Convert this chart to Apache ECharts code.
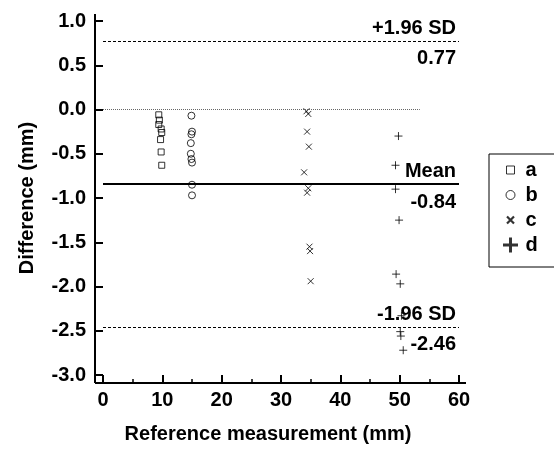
<!DOCTYPE html>
<html><head><meta charset="utf-8">
<script src="https://cdn.jsdelivr.net/npm/echarts@6/dist/echarts.min.js"></script>
<style>html,body{margin:0;padding:0;background:#fff}#c{width:554px;height:450px}</style>
</head><body><div id="c"></div>
<script>
// ---- data ----
const seriesNames = ['a', 'b', 'c', 'd'];
const dataA = [[9.4,-0.06],[9.5,-0.12],[9.4,-0.17],[9.8,-0.22],[9.9,-0.26],[9.7,-0.34],[9.8,-0.48],[9.9,-0.63]];
const dataB = [[14.9,-0.07],[15.0,-0.25],[14.9,-0.28],[14.8,-0.38],[14.8,-0.50],[14.9,-0.56],[15.0,-0.60],[15.0,-0.85],[15.0,-0.97]];
const dataC = [[34.3,-0.02],[34.6,-0.05],[34.4,-0.25],[34.7,-0.42],[33.9,-0.71],[34.6,-0.89],[34.4,-0.94],[34.8,-1.55],[34.9,-1.60],[35.0,-1.94]];
const dataD = [[49.8,-0.30],[49.3,-0.63],[49.3,-0.90],[49.9,-1.25],[49.4,-1.86],[50.1,-1.97],[50.3,-2.33],[50.1,-2.51],[50.2,-2.56],[50.6,-2.72]];
const upperLoA = 0.77, meanDiff = -0.84, lowerLoA = -2.46;
const upperLabel = '+1.96 SD', meanLabel = 'Mean', lowerLabel = '-1.96 SD';
const xTicks = [0, 10, 20, 30, 40, 50, 60];
const yTicks = [-3.0, -2.5, -2.0, -1.5, -1.0, -0.5, 0.0, 0.5, 1.0];
const zeroLineEnd = 53.4;

const FONT = "'Liberation Sans', Arial, sans-serif";
const txt = {fontFamily: FONT, fontWeight: 'bold', fontSize: 20, color: '#000'};

const symSquare = 'path://M0,0L10,0L10,10L0,10Z';
const symCircle = 'path://M10,5A5,5,0,1,1,0,5A5,5,0,1,1,10,5Z';
const symCross = 'path://M0,0L10,10M10,0L0,10';
const symPlus = 'path://M5,0L5,10M0,5L10,5';

const legSquare = 'path://M0,0M20,16M6,4L14,4L14,12L6,12Z';
const legCircle = 'path://M0,0M20,16M14.5,8A4.5,4.5,0,1,1,5.5,8A4.5,4.5,0,1,1,14.5,8Z';
const legCross = 'path://M0,0M20,16M6.5,4.5L13.5,11.5M13.5,4.5L6.5,11.5';
const legPlus = 'path://M0,0M20,16M10,0.5L10,15.5M2.5,8L17.5,8';

const symStyle = {color: 'rgba(0,0,0,0)', borderColor: '#000', borderWidth: 1};

function sc(name, data, symbol, size) {
  return {name, type: 'scatter', data, symbol, symbolSize: size, itemStyle: symStyle, silent: true, z: 3};
}

function lineItem(y, x1, style, label) {
  return [{coord: [0, y], lineStyle: style, label: label}, {coord: [x1, y]}];
}
const dashStyle = {type: [3, 2], width: 1, color: '#000'};
const hidden = {color: 'rgba(0,0,0,0)', width: 1, type: 'solid'};
const lab = (text, pos, dist) => Object.assign({show: true, formatter: text, position: pos, distance: dist}, txt);

const chart = echarts.init(document.getElementById('c'), null, {renderer: 'canvas'});
const option = {
  animation: false,
  backgroundColor: '#fff',
  textStyle: {fontFamily: FONT},
  grid: {left: 103, right: 95, top: 21, bottom: 75},
  xAxis: {
    type: 'value', min: xTicks[0], max: xTicks[xTicks.length - 1], interval: 10, offset: 8,
    name: 'Reference measurement (mm)', nameLocation: 'middle', nameGap: 41,
    nameTextStyle: Object.assign({padding: [0, 26, 0, 0]}, txt),
    axisLine: {show: false, onZero: false},
    axisTick: {show: true, inside: true, length: 8, lineStyle: {width: 2, color: '#000'}},
    minorTick: {show: true, splitNumber: 2, length: 4, lineStyle: {width: 1.5, color: '#000'}},
    axisLabel: Object.assign({margin: 7}, txt),
    splitLine: {show: false}
  },
  yAxis: {
    type: 'value', min: yTicks[0], max: yTicks[yTicks.length - 1], interval: 0.5, offset: 8,
    name: 'Difference (mm)', nameLocation: 'middle', nameGap: 58,
    nameTextStyle: txt,
    axisLine: {show: false, onZero: false},
    axisTick: {show: true, inside: true, length: 8, lineStyle: {width: 2, color: '#000'}},
    axisLabel: Object.assign({margin: 9, formatter: v => v.toFixed(1)}, txt),
    splitLine: {show: false}
  },
  legend: {
    orient: 'vertical', left: 489, top: 154, itemWidth: 20, itemHeight: 16, itemGap: 5,
    padding: [6, 40, 12, 10], borderColor: '#000', borderWidth: 1, borderRadius: 0,
    selectedMode: false, textStyle: txt,
    data: [
      {name: 'a', icon: legSquare, itemStyle: {color: 'rgba(0,0,0,0)', borderColor: '#000', borderWidth: 1}},
      {name: 'b', icon: legCircle, itemStyle: {color: 'rgba(0,0,0,0)', borderColor: '#000', borderWidth: 1}},
      {name: 'c', icon: legCross, itemStyle: {color: 'rgba(0,0,0,0)', borderColor: '#000', borderWidth: 2.2}},
      {name: 'd', icon: legPlus, itemStyle: {color: 'rgba(0,0,0,0)', borderColor: '#000', borderWidth: 3}}
    ]
  },
  series: [
    {
      name: 'ref', type: 'scatter', data: [], silent: true, z: 2,
      markLine: {
        silent: true, symbol: ['none', 'none'], animation: false,
        data: [
          lineItem(0, zeroLineEnd, {type: [1, 1], width: 1, color: '#666'}, {show: false}),
          lineItem(upperLoA, 60, dashStyle, lab(upperLabel, 'insideEndTop', [3, 3])),
          lineItem(upperLoA, 60, hidden, lab(upperLoA.toFixed(2), 'insideEndBottom', [3, 7])),
          lineItem(meanDiff, 60, {type: 'solid', width: 2, color: '#000'}, lab(meanLabel, 'insideEndTop', [3, 2])),
          lineItem(meanDiff, 60, hidden, lab(meanDiff.toFixed(2), 'insideEndBottom', [3, 9])),
          lineItem(lowerLoA, 60, dashStyle, lab(lowerLabel, 'insideEndTop', [3, 3])),
          lineItem(lowerLoA, 60, hidden, lab(lowerLoA.toFixed(2), 'insideEndBottom', [3, 7]))
        ]
      }
    },
    sc('a', dataA, symSquare, 6),
    sc('b', dataB, symCircle, 7),
    sc('c', dataC, symCross, 6),
    sc('d', dataD, symPlus, 8)
  ]
};
chart.setOption(option);

// axis lines (offset Prism-style frame)
const pMin = chart.convertToPixel({gridIndex: 0}, [xTicks[0], yTicks[0]]);
const pMax = chart.convertToPixel({gridIndex: 0}, [xTicks[xTicks.length - 1], yTicks[yTicks.length - 1]]);
const axX = pMin[0] - 8, axY = pMin[1] + 8;
chart.setOption({
  graphic: [
    {type: 'line', shape: {x1: axX, y1: axY, x2: pMax[0] + 7, y2: axY}, style: {stroke: '#000', lineWidth: 2}, silent: true, z: 10},
    {type: 'line', shape: {x1: axX, y1: pMax[1] - 7, x2: axX, y2: axY}, style: {stroke: '#000', lineWidth: 2}, silent: true, z: 10}
  ]
});
</script></body></html>
